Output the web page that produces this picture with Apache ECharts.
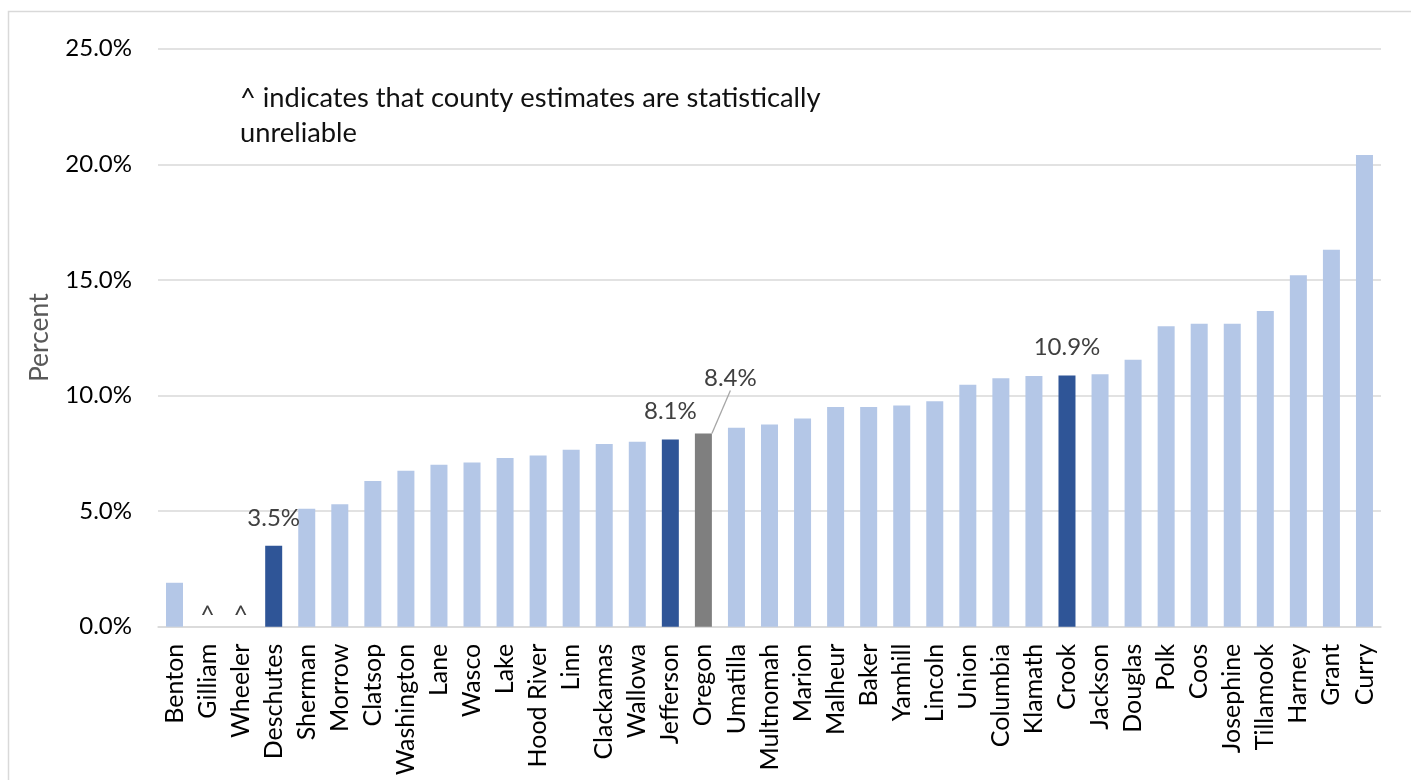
<!DOCTYPE html>
<html>
<head>
<meta charset="utf-8">
<script src="https://cdn.jsdelivr.net/npm/echarts@6/dist/echarts.min.js"></script>
<style>
  html, body { margin: 0; padding: 0; background: #ffffff; }
  #chart { width: 1411px; height: 780px; }
</style>
</head>
<body>
<div id="chart"></div>
<script>
// ---- Data ----
const counties = ['Benton','Gilliam','Wheeler','Deschutes','Sherman','Morrow','Clatsop','Washington','Lane','Wasco','Lake','Hood River','Linn','Clackamas','Wallowa','Jefferson','Oregon','Umatilla','Multnomah','Marion','Malheur','Baker','Yamhill','Lincoln','Union','Columbia','Klamath','Crook','Jackson','Douglas','Polk','Coos','Josephine','Tillamook','Harney','Grant','Curry'];
// null = statistically unreliable estimate (shown as ^)
const percentValues = [1.9, null, null, 3.5, 5.1, 5.3, 6.3, 6.75, 7.0, 7.1, 7.3, 7.4, 7.65, 7.9, 8.0, 8.1, 8.36, 8.6, 8.75, 9.0, 9.5, 9.5, 9.57, 9.75, 10.47, 10.75, 10.84, 10.86, 10.92, 11.55, 13.0, 13.1, 13.1, 13.65, 15.2, 16.3, 20.4];
const highlightCounties = ['Deschutes', 'Jefferson', 'Crook'];
const stateName = 'Oregon';
const yTicks = [0, 5, 10, 15, 20, 25];
const noteText = '^ indicates that county estimates are statistically\nunreliable';

// ---- Styles ----
const LIGHT = '#b4c7e7';
const DARK = '#2f5597';
const GRAY = '#7f7f7f';
const FONT = 'Lato, "Open Sans", sans-serif';

const seriesData = counties.map((name, i) => {
  const v = percentValues[i];
  const item = { value: v === null ? 0 : v };
  let color = LIGHT;
  if (highlightCounties.includes(name)) color = DARK;
  if (name === stateName) color = GRAY;
  item.itemStyle = { color };
  if (v === null) {
    item.label = { show: true, formatter: '^', distance: -2, color: '#404040', fontSize: 25 };
  } else if (highlightCounties.includes(name) || name === stateName) {
    item.label = { show: true, formatter: v.toFixed(1) + '%' };
    if (name === stateName) {
      item.labelLine = { show: true, lineStyle: { color: '#a6a6a6', width: 1.3 } };
    }
  }
  return item;
});

const chart = echarts.init(document.getElementById('chart'), null, { renderer: 'canvas' });
chart.setOption({
  animation: false,
  backgroundColor: '#ffffff',
  textStyle: { fontFamily: FONT },
  graphic: [{
    type: 'rect',
    shape: { x: 8.5, y: 11.5, width: 1440, height: 820 },
    style: { fill: 'none', stroke: '#d9d9d9', lineWidth: 1.5 },
    silent: true
  }],
  title: {
    text: noteText,
    left: 235,
    top: 76,
    textStyle: { fontFamily: FONT, fontSize: 27.3, fontWeight: 'normal', color: '#111111', lineHeight: 35 }
  },
  grid: { left: 158, right: 30, top: 48.7, bottom: 153.3, containLabel: false },
  xAxis: {
    type: 'category',
    data: counties,
    axisTick: { show: false },
    axisLine: { lineStyle: { color: '#d9d9d9', width: 1.5 } },
    axisLabel: { interval: 0, rotate: 90, margin: 17, color: '#000000', fontSize: 25, fontFamily: FONT }
  },
  yAxis: {
    type: 'value',
    min: yTicks[0],
    max: yTicks[yTicks.length - 1],
    interval: yTicks[1] - yTicks[0],
    name: 'Percent',
    nameLocation: 'middle',
    nameGap: 105,
    nameTextStyle: { color: '#595959', fontSize: 26.5, fontFamily: FONT },
    axisLine: { show: false },
    axisTick: { show: false },
    splitLine: { lineStyle: { color: '#d9d9d9', width: 1.5 } },
    axisLabel: { margin: 26, color: '#000000', fontSize: 24, fontFamily: FONT, formatter: v => v.toFixed(1) + '%' }
  },
  series: [{
    type: 'bar',
    data: seriesData,
    barWidth: 17,
    label: { show: false, position: 'top', distance: 16, color: '#404040', fontSize: 24, fontFamily: FONT },
    labelLayout: function (params) {
      if (counties[params.dataIndex] === stateName) {
        return { dx: 27, dy: -27 };
      }
      return {};
    }
  }]
});
</script>
</body>
</html>
